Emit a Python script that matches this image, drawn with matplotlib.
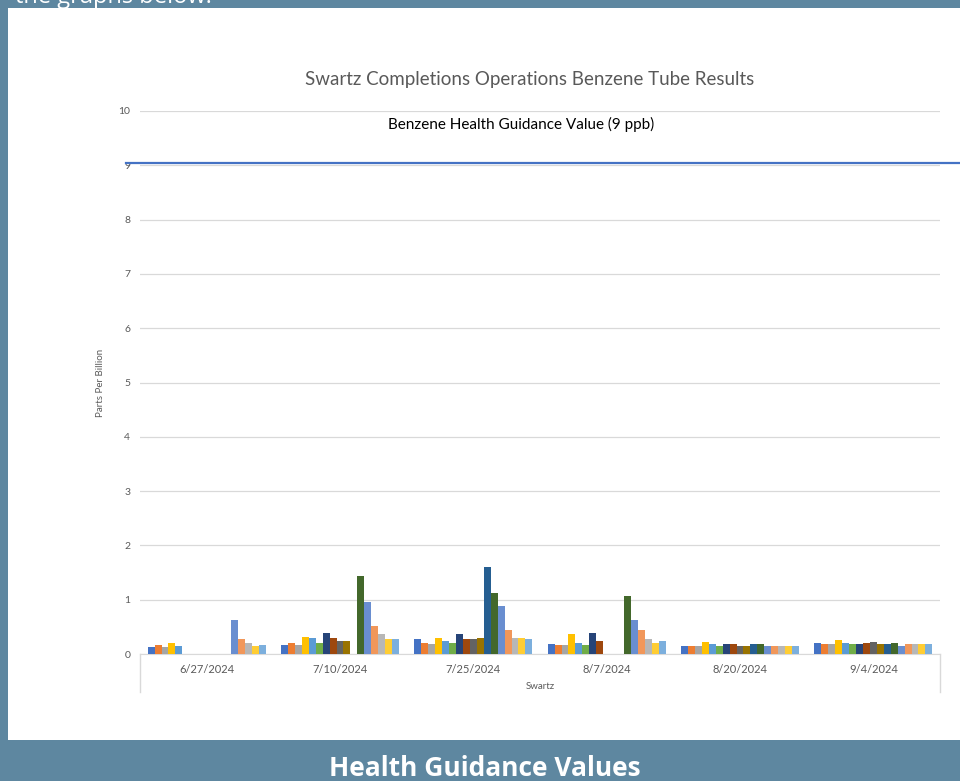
import numpy as np
import matplotlib
matplotlib.use("Agg")
import matplotlib.pyplot as plt
import matplotlib.transforms as mtransforms

nan = np.nan

# sample dates (categories)
dates = ["6/27/2024", "7/10/2024", "7/25/2024", "8/7/2024", "8/20/2024", "9/4/2024"]

# tube results per date, one value per sampling location (ppb), nan = no sample
vals_0627 = [0.12, 0.17, 0.12, 0.21, 0.15, nan, nan, nan, nan, nan, nan, nan, 0.62, 0.27, 0.21, 0.15, 0.17]
vals_0710 = [0.17, 0.21, 0.17, 0.32, 0.30, 0.21, 0.39, 0.30, 0.24, 0.24, nan, 1.43, 0.95, 0.51, 0.36, 0.27, 0.27]
vals_0725 = [0.27, 0.21, 0.18, 0.30, 0.24, 0.21, 0.36, 0.27, 0.27, 0.30, 1.60, 1.12, 0.89, 0.45, 0.30, 0.30, 0.28]
vals_0807 = [0.18, 0.16, 0.16, 0.36, 0.21, 0.16, 0.39, 0.24, nan, nan, nan, 1.06, 0.62, 0.45, 0.27, 0.21, 0.24]
vals_0820 = [0.14, 0.14, 0.14, 0.23, 0.18, 0.14, 0.18, 0.18, 0.14, 0.14, 0.18, 0.18, 0.14, 0.14, 0.14, 0.14, 0.14]
vals_0904 = [0.21, 0.18, 0.18, 0.26, 0.21, 0.18, 0.18, 0.21, 0.23, 0.18, 0.18, 0.21, 0.14, 0.18, 0.18, 0.18, 0.18]

guidance = 9.05
yticks = [0, 1, 2, 3, 4, 5, 6, 7, 8, 9, 10]

# excel default palette
colors = ["#4472C4", "#ED7D31", "#A5A5A5", "#FFC000", "#5B9BD5", "#70AD47",
          "#264478", "#9E480E", "#636363", "#997300", "#255E91", "#43682B",
          "#698ED0", "#F1975A", "#B7B7B7", "#FFCD33", "#7CAFDD"]

data = np.array([vals_0627, vals_0710, vals_0725, vals_0807, vals_0820, vals_0904])
n_series = data.shape[1]

plt.rcParams["font.family"] = ["Lato", "DejaVu Sans"]

fig = plt.figure(figsize=(9.6, 7.81), dpi=100)
fig.patch.set_facecolor("#5E87A0")

# white card behind the chart
card = plt.Rectangle((8 / 960, 1 - 740 / 781), 1 - 8 / 960, (740 - 8) / 781,
                     transform=fig.transFigure, facecolor="white", edgecolor="none", zorder=-1)
fig.patches.append(card)

fig.text(15 / 960, 1 - 3 / 781, "the graphs below.", color="white", fontsize=17,
         family="Open Sans", va="baseline", ha="left")
fig.text(485 / 960, 1 - 768 / 781, "Health Guidance Values", color="white", fontsize=19,
         family="Open Sans", fontweight="bold", ha="center", va="center")

ax = fig.add_axes([140 / 960, 1 - 654 / 781, 800 / 960, 543 / 781])
ax.set_zorder(2)
ax.set_facecolor("none")

x = np.arange(len(dates))
width = 1 / (n_series + 2.19)
for i in range(n_series):
    offs = (i - (n_series - 1) / 2) * width
    ax.bar(x + offs, data[:, i], width=width, color=colors[i], zorder=3)

ax.set_xlim(-0.5, len(dates) - 0.5)
ax.set_ylim(0, 10)
ax.set_yticks(yticks)
ax.yaxis.grid(True, color="#D9D9D9", lw=0.9, zorder=0)
ax.tick_params(axis="y", length=0, pad=7, labelsize=7.5, labelcolor="#595959")
ax.tick_params(axis="x", length=0, pad=7, labelsize=8, labelcolor="#595959")
ax.set_xticks(x)
ax.set_xticklabels(dates)
for s in ["top", "right", "left"]:
    ax.spines[s].set_visible(False)
ax.spines["bottom"].set_color("#D9D9D9")

# category box edges below the axis
ax.plot([0, 0], [0, -0.07], transform=ax.transAxes, color="#D9D9D9", lw=1, clip_on=False)
ax.plot([1, 1], [0, -0.07], transform=ax.transAxes, color="#D9D9D9", lw=1, clip_on=False)

# guidance line
trans = mtransforms.blended_transform_factory(ax.transAxes, ax.transData)
ax.plot([-0.0175, 1.03], [guidance, guidance], transform=trans, color="#4472C4",
        lw=1.6, clip_on=False, zorder=4)
ax.text(0.477, 0.975, "Benzene Health Guidance Value (9 ppb)", transform=ax.transAxes,
        ha="center", va="center", fontsize=11, color="black")

ax.set_ylabel("Parts Per Billion", fontsize=7, color="#595959", labelpad=10)
ax.set_xlabel("Swartz", fontsize=7, color="#595959", labelpad=5)
fig.text(530 / 960, 1 - 80 / 781, "Swartz Completions Operations Benzene Tube Results",
         ha="center", va="center", fontsize=13.5, color="#595959")

fig.savefig("out.png", dpi=100, facecolor=fig.get_facecolor())
